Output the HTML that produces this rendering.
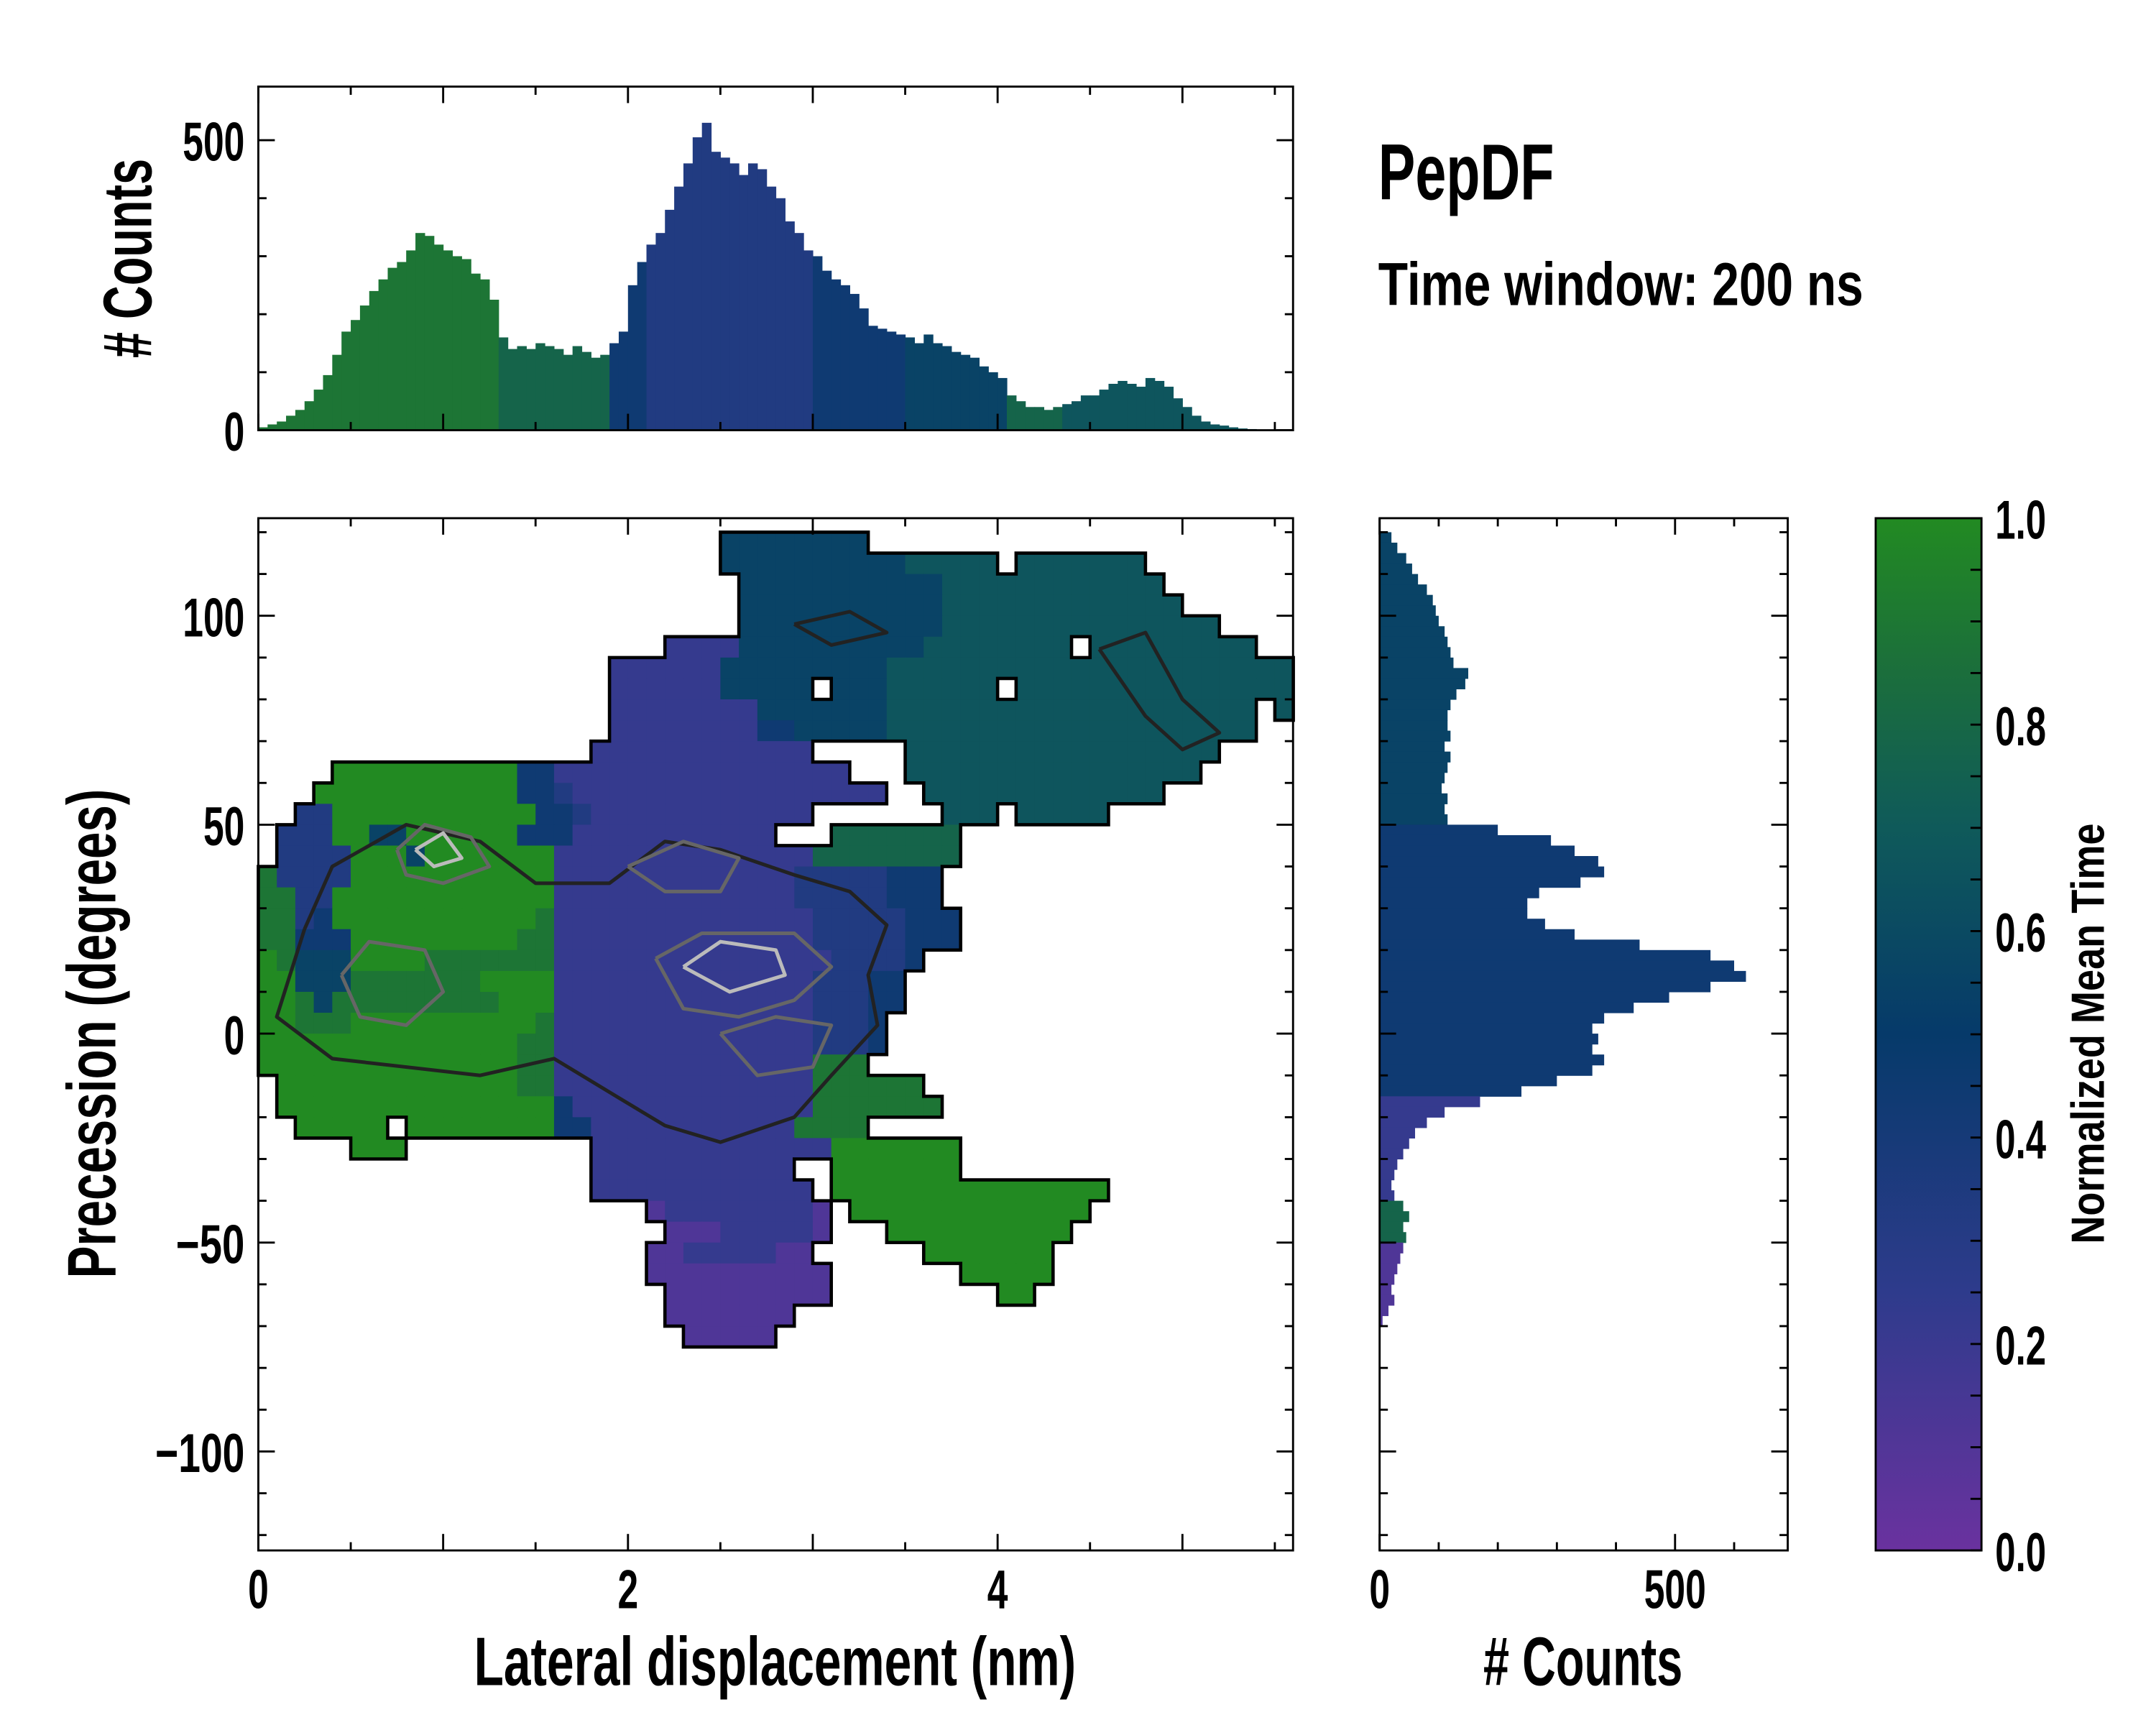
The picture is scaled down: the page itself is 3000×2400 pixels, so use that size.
<!DOCTYPE html>
<html><head><meta charset="utf-8"><style>
html,body{margin:0;padding:0;background:#fff;}
svg{display:block;}
text{font-family:"Liberation Sans Narrow","Liberation Sans",sans-serif;font-weight:bold;fill:#000;}
</style></head><body>
<svg id="fig" xmlns="http://www.w3.org/2000/svg" width="3000" height="2400" viewBox="0 0 1569 1255" preserveAspectRatio="none">
<defs>
<linearGradient id="cbgrad" x1="0" y1="1" x2="0" y2="0">
<stop offset="0" stop-color="#6a329f"/><stop offset="0.25" stop-color="#2e3b8c"/><stop offset="0.5" stop-color="#063a6a"/><stop offset="0.7" stop-color="#0f5a5a"/><stop offset="0.85" stop-color="#1b6e3c"/><stop offset="1" stop-color="#228a22"/>
</linearGradient>
</defs>
<g id="main"></g>
<g id="tophist"></g>
<g id="righthist"></g>
<g id="cbar">
<rect x="1365" y="377" width="77" height="751" fill="url(#cbgrad)" stroke="#000" stroke-width="1.5"/>
</g>
<text x="1003" y="145" font-size="58" textLength="128" lengthAdjust="spacingAndGlyphs">PepDF</text>
<text x="1003" y="222" font-size="44" textLength="353" lengthAdjust="spacingAndGlyphs">Time window: 200 ns</text>
<text x="564" y="1226" font-size="50" text-anchor="middle" textLength="438" lengthAdjust="spacingAndGlyphs">Lateral displacement (nm)</text>
<text x="1152" y="1226" font-size="50" text-anchor="middle" textLength="145" lengthAdjust="spacingAndGlyphs"># Counts</text>
<text transform="translate(84,752) rotate(-90)" font-size="50" text-anchor="middle" textLength="356" lengthAdjust="spacingAndGlyphs">Precession (degrees)</text>
<text transform="translate(110,188) rotate(-90)" font-size="50" text-anchor="middle" textLength="145" lengthAdjust="spacingAndGlyphs"># Counts</text>
<text transform="translate(1531,752) rotate(-90)" font-size="34" text-anchor="middle" textLength="306" lengthAdjust="spacingAndGlyphs">Normalized Mean Time</text>
</svg>
<script>
// ---- data ----
const topBinStart = 0, topBinWidth = 0.05;
const topCounts = [5,10,15,25,35,50,70,95,130,170,190,215,240,260,280,290,310,340,335,320,310,300,295,270,260,225,160,140,145,140,150,145,140,130,145,135,125,130,150,170,250,290,320,340,380,420,460,505,530,480,470,460,440,460,450,420,400,360,340,310,300,275,260,250,235,210,180,175,170,165,160,150,165,150,145,135,130,125,110,100,90,60,50,40,40,35,40,45,50,60,60,70,80,85,80,75,90,85,75,55,40,25,15,10,8,5,3,2];
const topLevels = "8888888888888888888888888877777777777744443333333333333333334444444444555555555557777776666666666666666666666";
const rightBinTop = 120, rightBinHeight = 2.5;
const rightCounts = [20,30,45,55,65,80,90,95,100,110,115,120,125,150,145,130,120,115,115,120,110,120,115,110,105,115,110,115,200,290,330,370,380,340,270,250,250,280,330,440,560,600,620,560,490,430,380,360,370,360,380,360,300,240,170,110,80,60,50,40,30,25,20,25,40,50,40,45,40,35,30,25,20,25,15,5];
const rightLevels = "5555555555555555555555555555444444444444444444444444442222222222777711111111";
const gridTop = 120, gridDy = 5, gridDx = 0.1;
const gridRows = [
"25:55555555",
"25:555555555566666 41:6666666",
"26:555555555556666 41:66666666",
"26:555555555556666666666666",
"26:55555555555666666666666666",
"22:2222555555555566666666.666666666",
"19:2222225555555556666666666666666666666",
"19:22222255555.555666666.666666666666666",
"19:22222222555555566666666666666666666.6",
"19:22222222445555566666666666666666666",
"18:222222222222 35:66666666666666666",
"4:9999999999442222222222222222 35:6666666666666666",
"3:9999999999944322222222222222222 36:6666666666666",
"2:3399999999999443222222222222 37:666.66666",
"1:333995599999944422222222222 31:7777777",
"1:3333999599999992222222222222277777777",
"0:8333399999999999222222222222233333444",
"0:8833999999999999222222222222233333444",
"0:88349999999999982222222222222233333444",
"0:88444999999999882222222222222233333444",
"0:985559999888888822222222222222233334",
"0:99555888888899992222222222222233344",
"0:99858888888889992222222222222233344",
"0:9988899999999998222222222222223334",
"0:9999999999999988222222222222223334",
"0:999999999999998822222222222222888",
"1:99999999999998822222222222222888888",
"1:999999999999999422222222222228888888",
"2:99999.9999999944222222222228888",
"5:999 18:2222222222222 31:9999999",
"18:22222222222 31:9999999",
"18:222222222222 31:999999999999999",
"21:1222222221 32:9999999999999",
"22:111222221 34:9999999999",
"21:112222211 36:9999999",
"21:1111111111 38:99999",
"22:111111111 40:99",
"22:1111111",
"23:11111"
];
// contour loops: [nm, degrees] vertices
const contourDark1 = [[0.25,25],[0.4,40],[0.8,50],[1.2,46],[1.5,36],[1.9,36],[2.2,46],[2.5,44],[2.9,38],[3.2,34],[3.4,26],[3.3,14],[3.35,2],[3.1,-10],[2.9,-20],[2.5,-26],[2.2,-22],[1.9,-14],[1.6,-6],[1.2,-10],[0.8,-8],[0.4,-6],[0.1,4],[0.25,25]];
const contourDark2 = [[2.9,98],[3.2,101],[3.4,96],[3.1,93],[2.9,98]];
const contourDark3 = [[4.55,92],[4.8,96],[5.0,80],[5.2,72],[5.0,68],[4.8,76],[4.55,92]];
const contourGrey1 = [[0.75,44],[0.9,50],[1.15,47],[1.25,40],[1.0,36],[0.8,38],[0.75,44]];
const contourGrey2 = [[0.45,14],[0.6,22],[0.9,20],[1.0,10],[0.8,2],[0.55,4],[0.45,14]];
const contourGrey3 = [[2.0,40],[2.3,46],[2.6,42],[2.5,34],[2.2,34],[2.0,40]];
const contourGrey4 = [[2.15,18],[2.4,24],[2.9,24],[3.1,16],[2.9,8],[2.6,4],[2.3,6],[2.15,18]];
const contourGrey5 = [[2.5,0],[2.8,4],[3.1,2],[3.0,-8],[2.7,-10],[2.5,0]];
const contourLight1 = [[0.85,44],[1.0,48],[1.1,42],[0.95,40],[0.85,44]];
const contourLight2 = [[2.3,16],[2.5,22],[2.8,20],[2.85,14],[2.55,10],[2.3,16]];
const xTickLabels = ["0","2","4"];
const yTickLabels = ["100","50","0","\u221250","\u2212100"];
const topYTickLabels = ["0","500"];
const rightXTickLabels = ["0","500"];
const cbTickLabels = ["0.0","0.2","0.4","0.6","0.8","1.0"];

// ---- axes ----
const NS="http://www.w3.org/2000/svg";
const mx = v => 188 + v*134.5;
const my = d => 752 - d*3.04;
const ty = c => 313 - c*0.422;
const rx = c => 1004 + c*0.43;
const cy = v => 1128 - v*751;
const stops=[[0,[106,50,159]],[0.25,[46,59,140]],[0.5,[6,58,106]],[0.7,[15,90,90]],[0.85,[27,110,60]],[1,[34,138,34]]];
function cmap(t){t=Math.max(0,Math.min(1,t));for(let i=1;i<stops.length;i++){if(t<=stops[i][0]){const a=stops[i-1],b=stops[i],f=(t-a[0])/(b[0]-a[0]);return "rgb("+a[1].map((c,k)=>Math.round(c+(b[1][k]-c)*f)).join(",")+")";}}return "rgb(34,138,34)";}
function el(tag,attrs,parent){const e=document.createElementNS(NS,tag);for(const k in attrs)e.setAttribute(k,attrs[k]);parent.appendChild(e);return e;}

// ---- heatmap ----
const mainG=document.getElementById("main");
const grid=[];
gridRows.forEach((row,r)=>{grid[r]=[];row.split(" ").forEach(seg=>{const parts=seg.split(":");const st=parseInt(parts[0]);const chars=parts[1];for(let i=0;i<chars.length;i++){if(chars[i]!=='.')grid[r][st+i]=parseInt(chars[i])/9;}});});
const filled=(r,c)=>grid[r]!==undefined&&grid[r][c]!==undefined;
grid.forEach((row,r)=>{row.forEach((v,c)=>{if(v===undefined)return;
 const x0=mx(c*gridDx),x1=mx((c+1)*gridDx),y0=my(gridTop-r*gridDy),y1=my(gridTop-(r+1)*gridDy);
 const cell=el("rect",{x:x0,y:y0,width:x1-x0+0.4,height:y1-y0+0.4,fill:cmap(v)},mainG);
 
 
});});
function drawContour(pts,color,w,name){
 const dd=pts.map((p,i)=>(i?"L":"M")+mx(p[0]).toFixed(1)+","+my(p[1]).toFixed(1)).join("");
 const pth=el("path",{d:dd,fill:"none",stroke:color,"stroke-width":w,"stroke-linejoin":"round"},mainG);
 
 
}
drawContour(contourDark1,"#222",2.6,'contour-level-1');
drawContour(contourDark2,"#222",2.6,'contour-level-1');
drawContour(contourDark3,"#222",2.6,'contour-level-1');
[contourGrey1,contourGrey2,contourGrey3,contourGrey4,contourGrey5].forEach(c=>drawContour(c,"#666",2.6,'contour-level-2'));
[contourLight1,contourLight2].forEach(c=>drawContour(c,"#bbb",2.6,'contour-level-3'));
let pathD="";
grid.forEach((row,r)=>{row.forEach((v,c)=>{if(v===undefined)return;
 const x0=mx(c*gridDx),x1=mx((c+1)*gridDx),y0=my(gridTop-r*gridDy),y1=my(gridTop-(r+1)*gridDy);
 if(!filled(r-1,c))pathD+=`M${x0},${y0}H${x1}`;
 if(!filled(r+1,c))pathD+=`M${x0},${y1}H${x1}`;
 if(!filled(r,c-1))pathD+=`M${x0},${y0}V${y1}`;
 if(!filled(r,c+1))pathD+=`M${x1},${y0}V${y1}`;
});});
const outline=el("path",{d:pathD,fill:"none",stroke:"#000","stroke-width":2.4,"stroke-linecap":"square"},mainG);



function frame(g,x,y,w,h,name){const f=el("rect",{x:x,y:y,width:w,height:h,fill:"none",stroke:"#000","stroke-width":1.5},g);}
function tick(g,x1,y1,x2,y2){const t=el("line",{x1:x1,y1:y1,x2:x2,y2:y2,stroke:"#000","stroke-width":1.5},g);}
function txtLen(s){let L=0;for(const ch of s){L+=(ch==='.')?7:(ch==='\u2212')?20:15;}return L;}
function label(g,x,y,txt,anchor,name){const t=el("text",{x:x,y:y,"font-size":40,"text-anchor":anchor,textLength:txtLen(txt),lengthAdjust:"spacingAndGlyphs"},g);t.textContent=txt;}

frame(mainG,188,377,753,751,'heatmap-frame');
for(let v=0;v<=5.6;v+=0.5){const X=mx(v),L=(Math.abs(v-Math.round(v))<0.01)?12:6;tick(mainG,X,1128,X,1128-L);tick(mainG,X,377,X,377+L);}
for(let dd=-120;dd<=120;dd+=10){const Y=my(dd),L=(dd%50===0)?12:6;tick(mainG,188,Y,188+L,Y);tick(mainG,941,Y,941-L,Y);}
[0,2,4].forEach((v,i)=>label(mainG,mx(v),1170,xTickLabels[i],"middle",'x-tick-label'));
[100,50,0,-50,-100].forEach((v,i)=>label(mainG,178,my(v)+15,yTickLabels[i],"end",'y-tick-label'));

// ---- top histogram ----
const topG=document.getElementById("tophist");
topCounts.forEach((c,i)=>{const x0=mx(topBinStart+i*topBinWidth),x1=mx(topBinStart+(i+1)*topBinWidth);
 const b=el("rect",{x:x0,y:ty(c),width:x1-x0+0.3,height:ty(0)-ty(c),fill:cmap(parseInt(topLevels[i])/9)},topG);
 
 
});
frame(topG,188,63,753,250,'top-hist-frame');
for(let v=0;v<=5.6;v+=0.5){const X=mx(v),L=(Math.abs(v-Math.round(v))<0.01)?12:6;tick(topG,X,313,X,313-L);tick(topG,X,63,X,63+L);}
for(let c=0;c<=500;c+=100){const Y=ty(c),L=(c%500===0)?12:6;tick(topG,188,Y,188+L,Y);tick(topG,941,Y,941-L,Y);}
[0,500].forEach((v,i)=>label(topG,178,ty(v)+15,topYTickLabels[i],"end",'top-hist-y-tick-label'));

// ---- right histogram ----
const rightG=document.getElementById("righthist");
rightCounts.forEach((c,i)=>{const y0=my(rightBinTop-i*rightBinHeight),y1=my(rightBinTop-(i+1)*rightBinHeight);
 const b=el("rect",{x:rx(0),y:y0,width:rx(c)-rx(0),height:y1-y0+0.3,fill:cmap(parseInt(rightLevels[i])/9)},rightG);
 
 
});
frame(rightG,1004,377,297,751,'right-hist-frame');
for(let c=0;c<=690;c+=100){const X=rx(c),L=(c%500===0)?12:6;tick(rightG,X,1128,X,1128-L);tick(rightG,X,377,X,377+L);}
for(let dd=-120;dd<=120;dd+=10){const Y=my(dd),L=(dd%50===0)?12:6;tick(rightG,1004,Y,1004+L,Y);tick(rightG,1301,Y,1301-L,Y);}
[0,500].forEach((v,i)=>label(rightG,rx(v),1170,rightXTickLabels[i],"middle",'right-hist-x-tick-label'));

// ---- colorbar ----
const cbG=document.getElementById("cbar");
for(let k=0;k<=20;k++){const Y=cy(k*0.05);tick(cbG,1442,Y,1434,Y);}
[0,0.2,0.4,0.6,0.8,1.0].forEach((v,i)=>label(cbG,1452,cy(v)+15,cbTickLabels[i],"start",'colorbar-tick-label'));
</script>
</body></html>
